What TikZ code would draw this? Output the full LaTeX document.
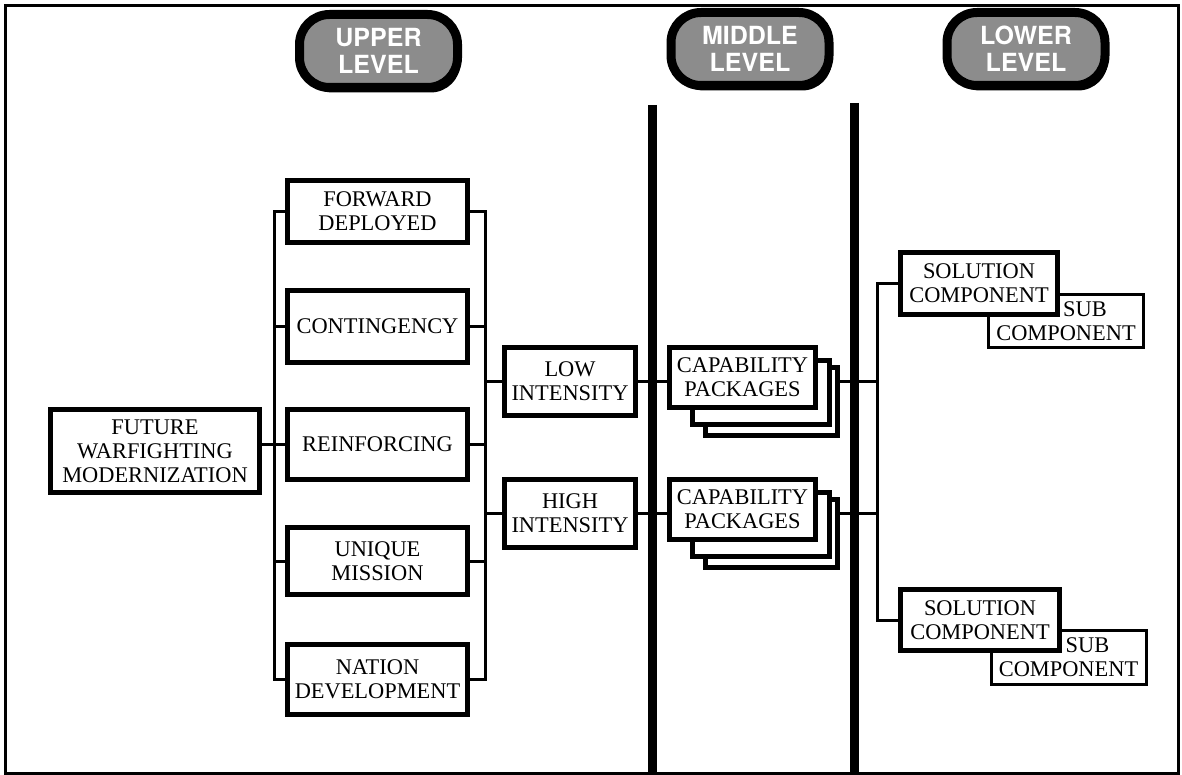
\documentclass[tikz,border=0pt]{standalone}
\usepackage{fontspec}
\setmainfont{Liberation Serif}
\setsansfont{TeX Gyre Heros}
\usetikzlibrary{shadows}
\begin{document}
\begin{tikzpicture}[x=0.5pt,y=-0.5pt,
  txt/.style={font=\fontsize{11.2}{12}\selectfont},
  box/.style={draw, line width=2.5pt, fill=white, inner sep=1pt, align=center, txt},
  subbox/.style={draw, line width=1.5pt, fill=white, inner sep=1pt, align=center, txt},
  conn/.style={line width=1.5pt},
  divider/.style={line width=4.5pt},
  pill/.style={draw=black, line width=4.5pt, fill=black!45, rounded corners=15pt,
    minimum width=79pt, minimum height=36.5pt, inner sep=0pt, text=white, align=center,
    font=\sffamily\bfseries\fontsize{12.5}{13.5}\selectfont,
    drop shadow={shadow xshift=1.5pt, shadow yshift=-2.5pt, opacity=1, fill=black}}]
\useasboundingbox (0,0) rectangle (1182,775);
% frame
\draw[line width=1.5pt] (5,6) rectangle (1178,773);
% level pills
\node[pill] (up) at (378.5,51) {UPPER\\LEVEL};
\node[pill] (mid) at (750,49) {MIDDLE\\LEVEL};
\node[pill] (low) at (1026,49) {LOWER\\LEVEL};
% dividers
\coordinate (d1t) at (652,105);
\coordinate (d1b) at (652,773);
\coordinate (d2t) at (854,103);
\coordinate (d2b) at (854,773);
\draw[divider] (d1t) -- (d1b);
\draw[divider] (d2t) -- (d2b);
% left
\node[box, minimum width=104.5pt, minimum height=41.5pt] (fwm) at (155,451) {FUTURE\\WARFIGHTING\\MODERNIZATION};
\node[box, minimum width=90pt, minimum height=31pt] (fd) at (377.5,211.5) {FORWARD\\DEPLOYED};
\node[box, minimum width=90pt, minimum height=36pt] (cont) at (377.5,326.5) {CONTINGENCY};
\node[box, minimum width=90pt, minimum height=35pt] (reinf) at (377.5,444.5) {REINFORCING};
\node[box, minimum width=90pt, minimum height=33.5pt] (uniq) at (377.5,561) {UNIQUE\\MISSION};
\node[box, minimum width=90pt, minimum height=35pt] (nat) at (377.5,679.5) {NATION\\DEVELOPMENT};
\node[box, minimum width=65.5pt, minimum height=34pt] (lowi) at (570,381.5) {LOW\\INTENSITY};
\node[box, minimum width=65.5pt, minimum height=34pt] (highi) at (570,513.5) {HIGH\\INTENSITY};
% capability packages (stacked)
\node[box, minimum width=66pt, minimum height=34pt] (c1c) at (771.5,401.5) {};
\node[box, minimum width=68.5pt, minimum height=32pt] (c1b) at (761,392.5) {};
\node[box, minimum width=73pt, minimum height=30pt] (c1a) at (742.5,377.5) {CAPABILITY\\PACKAGES};
\node[box, minimum width=66pt, minimum height=34pt] (c2c) at (771.5,533.5) {};
\node[box, minimum width=68.5pt, minimum height=32pt] (c2b) at (761,524.5) {};
\node[box, minimum width=73pt, minimum height=30pt] (c2a) at (742.5,509.5) {CAPABILITY\\PACKAGES};
% solution components
\node[subbox, minimum width=77.5pt, minimum height=26.5pt] (sub1) at (1066,321) {\hspace*{19pt}SUB\\COMPONENT};
\node[box, minimum width=78.5pt, minimum height=31pt] (sol1) at (979,283.5) {SOLUTION\\COMPONENT};
\node[subbox, minimum width=77.5pt, minimum height=27pt] (sub2) at (1068.5,657.5) {\hspace*{19pt}SUB\\COMPONENT};
\node[box, minimum width=79.5pt, minimum height=30.5pt] (sol2) at (980,620) {SOLUTION\\COMPONENT};
% buses
\coordinate (lb) at (274,445);
\coordinate (rb) at (485,445);
\coordinate (sb) at (877,450);
\draw[conn] (fd.west) -| (lb) |- (nat.west);
\draw[conn] (cont.west) -- (cont.west -| lb);
\draw[conn] (uniq.west) -- (uniq.west -| lb);
\draw[conn] (fwm.east |- reinf.west) -- (reinf.west);
\draw[conn] (fd.east) -| (rb) |- (nat.east);
\draw[conn] (cont.east) -- (cont.east -| rb);
\draw[conn] (reinf.east) -- (reinf.east -| rb);
\draw[conn] (uniq.east) -- (uniq.east -| rb);
\draw[conn] (lowi.west) -- (lowi.west -| rb);
\draw[conn] (highi.west) -- (highi.west -| rb);
\draw[conn] (lowi.east) -- (lowi.east -| c1a.west);
\draw[conn] (highi.east) -- (highi.east -| c2a.west);
\draw[conn] (c1c.east |- lowi.east) -- (lowi.east -| sb);
\draw[conn] (c2c.east |- highi.east) -- (highi.east -| sb);
\draw[conn] (sol1.west) -| (sb) |- (sol2.west);
\end{tikzpicture}
\end{document}
